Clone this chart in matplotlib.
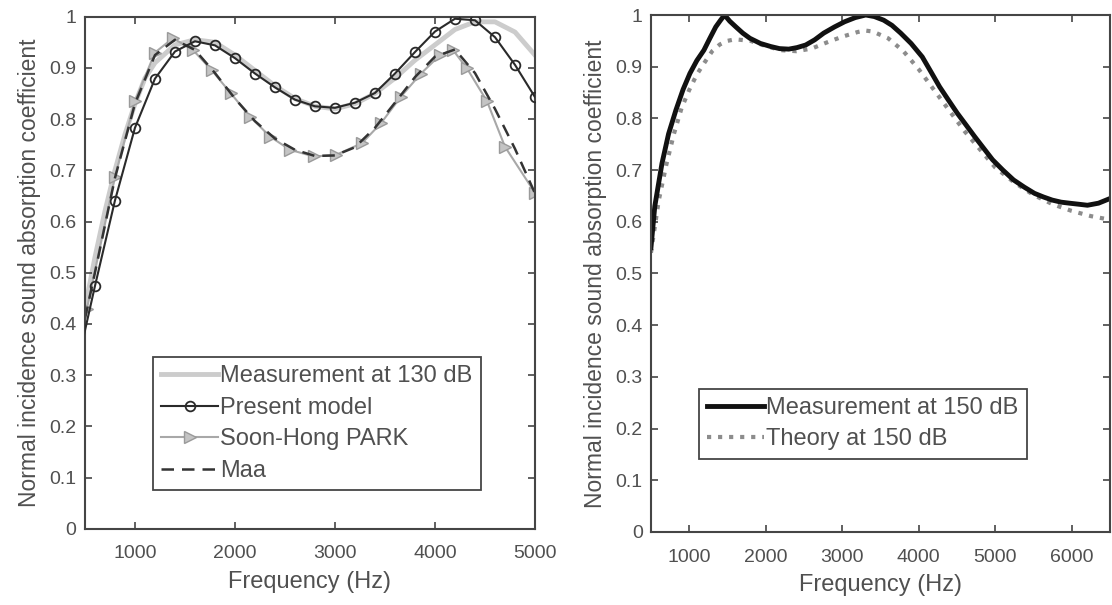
import numpy as np
import matplotlib
matplotlib.use('Agg')
import matplotlib.pyplot as plt

plt.rcParams['font.family'] = ['Liberation Sans', 'DejaVu Sans']

# --- painel (a): 130 dB ---
f_med130 = [500, 600, 700, 800, 900, 1000, 1100, 1200, 1400, 1600, 1800, 2000, 2200, 2400,
            2600, 2800, 3000, 3200, 3400, 3600, 3800, 4000, 4200, 4400, 4600, 4800, 5000]
a_med130 = [0.43, 0.53, 0.62, 0.70, 0.77, 0.83, 0.88, 0.91, 0.945, 0.955, 0.95, 0.925, 0.895, 0.865,
            0.84, 0.825, 0.82, 0.83, 0.85, 0.88, 0.915, 0.945, 0.975, 0.99, 0.99, 0.97, 0.925]

f_modelo = [400, 600, 800, 1000, 1200, 1400, 1600, 1800, 2000, 2200, 2400, 2600, 2800, 3000,
            3200, 3400, 3600, 3800, 4000, 4200, 4400, 4600, 4800, 5000]
a_modelo = [0.30, 0.474, 0.641, 0.783, 0.879, 0.932, 0.952, 0.944, 0.919, 0.889, 0.862, 0.838, 0.825, 0.822,
            0.832, 0.851, 0.889, 0.931, 0.971, 0.996, 0.993, 0.960, 0.906, 0.843]

f_park = [520, 800, 1000, 1200, 1380, 1580, 1770, 1960, 2150, 2350, 2550, 2790, 3010, 3270,
          3460, 3660, 3860, 4050, 4180, 4320, 4520, 4700, 5000]
a_park = [0.43, 0.687, 0.835, 0.930, 0.958, 0.935, 0.895, 0.850, 0.805, 0.766, 0.740, 0.727, 0.730, 0.753,
          0.792, 0.844, 0.889, 0.925, 0.935, 0.899, 0.835, 0.746, 0.656]

f_maa = [500, 600, 800, 1000, 1200, 1400, 1600, 1800, 2000, 2200, 2400, 2600, 2800, 3000,
         3200, 3400, 3600, 3800, 4000, 4200, 4400, 4600, 4800, 5000]
a_maa = [0.41, 0.50, 0.685, 0.830, 0.925, 0.955, 0.935, 0.890, 0.840, 0.796, 0.762, 0.740, 0.728, 0.729,
         0.745, 0.783, 0.832, 0.882, 0.922, 0.936, 0.890, 0.820, 0.742, 0.655]

# --- painel (b): 150 dB ---
f_med150 = [500, 550, 644, 730, 826, 920, 1009, 1100, 1192, 1270, 1347, 1410, 1462, 1530, 1610, 1700,
            1793, 1930, 2066, 2180, 2301, 2410, 2523, 2640, 2758, 2900, 3032, 3170, 3307, 3420, 3542,
            3650, 3764, 3900, 4046, 4160, 4273, 4390, 4504, 4620, 4730, 4850, 4965, 5100, 5239, 5380,
            5513, 5630, 5745, 5860, 5970, 6090, 6205, 6350, 6500]
a_med150 = [0.55, 0.63, 0.713, 0.77, 0.816, 0.856, 0.887, 0.912, 0.932, 0.955, 0.977, 0.99, 1.0, 0.988,
            0.977, 0.965, 0.955, 0.945, 0.939, 0.935, 0.934, 0.937, 0.942, 0.952, 0.965, 0.977, 0.987,
            0.995, 1.0, 0.997, 0.99, 0.98, 0.965, 0.945, 0.919, 0.89, 0.861, 0.835, 0.81, 0.787, 0.765,
            0.742, 0.72, 0.70, 0.681, 0.667, 0.655, 0.648, 0.642, 0.638, 0.636, 0.634, 0.632, 0.636, 0.645]

f_teo150 = [500, 600, 700, 800, 900, 1000, 1100, 1200, 1300, 1400, 1500, 1600, 1800, 2000, 2200,
            2400, 2600, 2800, 3000, 3200, 3300, 3400, 3600, 3800, 4000, 4200, 4400, 4600, 4800,
            5000, 5250, 5500, 5750, 6000, 6250, 6500]
a_teo150 = [0.54, 0.64, 0.71, 0.77, 0.82, 0.855, 0.885, 0.908, 0.93, 0.943, 0.95, 0.953, 0.95, 0.94, 0.932,
            0.93, 0.935, 0.947, 0.958, 0.967, 0.97, 0.968, 0.955, 0.93, 0.895, 0.855, 0.815, 0.775, 0.74,
            0.705, 0.676, 0.652, 0.634, 0.621, 0.611, 0.604]

cor_texto = '#505050'
cor_eixo = '#454545'

fig = plt.figure(figsize=(11.12, 6.05), dpi=100)
ax1 = fig.add_axes([0.0764, 0.1261, 0.4047, 0.8463])
ax2 = fig.add_axes([0.5854, 0.1207, 0.4128, 0.8545])

ax1.plot(f_med130, a_med130, color='#cccccc', lw=3.5, label='Measurement at 130 dB', zorder=1)
ax1.plot(f_modelo, a_modelo, '-o', color='#2a2a2a', lw=1.5, ms=7, mfc='none', mew=1.3,
         label='Present model', zorder=3)
ax1.plot(f_park, a_park, '->', color='#a8a8a8', lw=1.5, ms=9, mfc='#c4c4c4', mec='#9a9a9a',
         label='Soon-Hong PARK', zorder=2)
ax1.plot(f_maa, a_maa, '--', color='#333333', lw=1.8, dashes=(5, 3.2), label='Maa', zorder=2.5)

ax2.plot(f_med150, a_med150, color='#111111', lw=3.5, label='Measurement at 150 dB', zorder=2)
ax2.plot(f_teo150, a_teo150, ':', color='#8c8c8c', lw=3, label='Theory at 150 dB', zorder=1)

for ax in (ax1, ax2):
    ax.set_ylim(0, 1)
    ax.set_yticks(np.arange(0, 1.01, 0.1))
    ax.set_yticklabels(['0', '0.1', '0.2', '0.3', '0.4', '0.5', '0.6', '0.7', '0.8', '0.9', '1'])
    ax.tick_params(direction='in', top=True, right=True, length=5, width=1.2, color=cor_eixo,
                   labelsize=14, labelcolor=cor_texto)
    ax.tick_params(axis='x', pad=12)
    ax.tick_params(axis='y', pad=6)
    for s in ax.spines.values():
        s.set_color(cor_eixo)
        s.set_linewidth(1.5)
    ax.set_xlabel('Frequency (Hz)', fontsize=17, color=cor_texto, labelpad=6)
    ax.set_ylabel('Normal incidence sound absorption coefficient', fontsize=16.5, color=cor_texto,
                  labelpad=6)

ax1.set_xlim(500, 5000)
ax1.set_xticks([1000, 2000, 3000, 4000, 5000])
ax2.set_xlim(500, 6500)
ax2.set_xticks([1000, 2000, 3000, 4000, 5000, 6000])

estilo_leg = dict(loc='upper left', borderaxespad=0, fancybox=False, handlelength=2.4,
                  handletextpad=0.1, labelspacing=0.4, borderpad=0.35, labelcolor=cor_texto,
                  fontsize=17)
leg1 = ax1.legend(bbox_to_anchor=(0.151, 0.335), **estilo_leg)
leg2 = ax2.legend(bbox_to_anchor=(0.105, 0.277), **estilo_leg)
for leg in (leg1, leg2):
    leg.get_frame().set_edgecolor(cor_eixo)
    leg.get_frame().set_linewidth(1.3)
    leg.get_frame().set_alpha(1)

fig.savefig('out.png', dpi=100)
